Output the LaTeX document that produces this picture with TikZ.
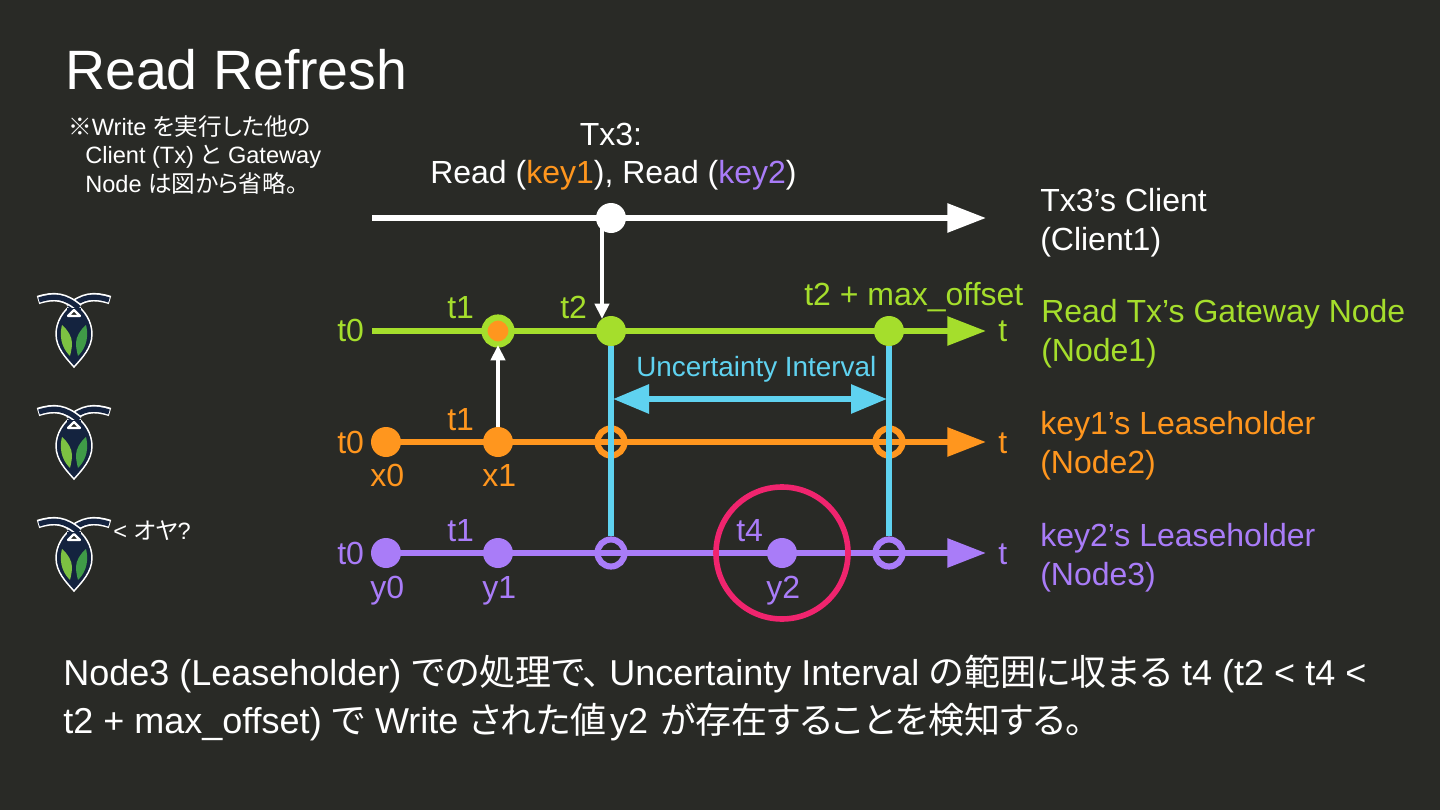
\documentclass[tikz,border=0pt]{standalone}
\usepackage{fontspec}
\setmainfont{Liberation Sans}
\newfontfamily\jpfont[RawFeature=+palt]{Noto Sans CJK JP}
\newcommand{\J}[1]{{\jpfont #1}}
\usetikzlibrary{arrows.meta}
\definecolor{bgc}{HTML}{292A26}
\definecolor{gr}{HTML}{A5DE2C}
\definecolor{og}{HTML}{FF961E}
\definecolor{pu}{HTML}{A97CF8}
\definecolor{cy}{HTML}{5FD2F0}
\definecolor{pk}{HTML}{F0246E}
\definecolor{navy}{HTML}{14233F}
\definecolor{leafa}{HTML}{7DC242}
\definecolor{leafb}{HTML}{3F9B47}
\tikzset{
  lab/.style={anchor=base west,inner sep=0pt,font=\fontsize{24}{28}\selectfont},
  big/.style={anchor=base west,inner sep=0pt,font=\fontsize{27}{32}\selectfont,text=white},
  small/.style={anchor=base west,inner sep=0pt,font=\fontsize{17.7}{22}\selectfont,text=white},
  dot/.style={circle,inner sep=0pt,minimum size=#1*0.75pt},
  ring/.style={circle,inner sep=0pt,minimum size=27*0.75pt,line width=4.6pt,draw=#1},
  tl/.style={line width=4.4pt,-{Triangle[length=29pt,width=21pt]},shorten >=0pt},
  thin arrow/.style={draw=white,line width=2.8pt,-{Triangle[length=11.5pt,width=10.5pt]}},
  cyl/.style={draw=cy,line width=4.5pt},
  pics/logo/.style={code={
    \fill[navy,draw=white,line width=1.1pt] (0,-27) .. controls (11,-20) and (18,-8) .. (18,4) .. controls (18,18) and (8,28) .. (0,37) .. controls (-8,28) and (-18,18) .. (-18,4) .. controls (-18,-8) and (-11,-20) .. (0,-27) -- cycle;
    \fill[leafa] (-12,-5) .. controls (-6,0) and (-2,7) .. (-2,13) .. controls (-2,18) and (-3,22) .. (-4,26) .. controls (-9,21) and (-16,11) .. (-12,-5) -- cycle;
    \fill[leafb] (12,-5) .. controls (6,0) and (2,7) .. (2,13) .. controls (2,18) and (3,22) .. (4,26) .. controls (9,21) and (16,11) .. (12,-5) -- cycle;
    \draw[white,line width=6.4pt] (36,-30) .. controls (20,-35) and (9,-34) .. (-5,-22);
    \draw[navy,line width=3.9pt] (35,-30) .. controls (20,-35) and (9,-34) .. (-5,-22);
    \draw[white,line width=6.4pt] (-36,-30) .. controls (-20,-35) and (-9,-34) .. (5,-22);
    \draw[navy,line width=3.9pt] (-35,-30) .. controls (-20,-35) and (-9,-34) .. (5,-22);
    \fill[navy] (-7,-22) rectangle (7,-17);
    \fill[bgc,draw=white,line width=1.6pt,line join=round] (0,-20) -- (-6,-14) -- (6,-14) -- cycle;
  }}
}
\begin{document}
\begin{tikzpicture}[x=0.75pt,y=-0.75pt]
\useasboundingbox (0,0) rectangle (1440,810);
\fill[bgc] (0,0) rectangle (1440,810);

% title and notes
\node[anchor=base west,inner sep=0pt,font=\fontsize{41.6}{48}\selectfont,text=white] (title) at (65,89) {Read Refresh};
\node[small] (n1) at (68,135) {\J{※}Write \J{を実行した他の}};
\node[small] (n2) at (85,163) {Client (Tx) \J{と} Gateway};
\node[small] (n3) at (85,192) {Node \J{は図から省略。}};
\node[small] (oya) at (113,539) {< \J{オヤ}?};

% logos
\pic at (74,330) {logo};
\pic at (74,442) {logo};
\pic at (74,554) {logo};

% line end points
\coordinate (ws) at (372,218); \coordinate (we) at (986,218);
\coordinate (gs) at (372,331); \coordinate (ge) at (986,331);
\coordinate (oe) at (986,442);
\coordinate (pe) at (986,553);

% axes
\draw[tl,white] (ws) -- (we);
\draw[tl,gr] (gs) -- (ge);

\node[dot=30,fill=og] (o0) at (386,442) {};
\node[dot=30,fill=og] (o1) at (498,442) {};
\node[ring=og] (o2) at (611,442) {};
\node[ring=og] (o3) at (889,442) {};
\draw[tl,og] (o0.center) -- (oe);

\node[dot=30,fill=pu] (p0) at (386,553) {};
\node[dot=30,fill=pu] (p1) at (498,553) {};
\node[ring=pu] (p2) at (611,553) {};
\node[ring=pu] (p3) at (889,553) {};
\node[dot=30,fill=pu] (p4) at (782,553) {};
\draw[tl,pu] (p0.center) -- (pe);

% green line nodes
\node[dot=27,fill=og,draw=gr,line width=4.6pt] (g1) at (498,331) {};
\node[dot=30,fill=gr] (g2) at (611,331) {};
\node[dot=30,fill=gr] (g3) at (889,331) {};

% white dot
\node[dot=30,fill=white] (w1) at (611,218) {};

% cyan
\draw[cyl] (g2.south) -- (p2.north);
\draw[cyl] (g3.south) -- (p3.north);
\coordinate (c1) at (613,399); \coordinate (c2) at (887,399);
\draw[draw=cy,line width=4.5pt,{Triangle[length=27pt,width=21pt]}-{Triangle[length=27pt,width=21pt]}] (c1) -- (c2);

% white arrows
\coordinate (wa) at (602,225); \coordinate (wb) at (602,319);
\draw[thin arrow] (wa) -- (wb);
\coordinate (ua) at (498,345);
\draw[thin arrow] (o1.north) -- (ua);

% pink
\node[circle,inner sep=0pt,minimum size=99pt,draw=pk,line width=4.2pt] (pink) at (782,553) {};

% labels
\node[lab,text=white,anchor=base] (tx3) at (611,145) {Tx3:};
\node[lab,text=white] (rd) at (430,183) {Read ({\color{og}key1}), Read ({\color{pu}key2})};
\node[lab,text=white] (c1a) at (1040,211) {Tx3’s Client};
\node[lab,text=white] (c1b) at (1040,250) {(Client1)};
\node[lab,text=gr] (g1a) at (1041,322) {Read Tx’s Gateway Node};
\node[lab,text=gr] (g1b) at (1041,361) {(Node1)};
\node[lab,text=og] (o1a) at (1040,434) {key1’s Leaseholder};
\node[lab,text=og] (o1b) at (1040,473) {(Node2)};
\node[lab,text=pu] (p1a) at (1040,546) {key2’s Leaseholder};
\node[lab,text=pu] (p1b) at (1040,585) {(Node3)};

\node[lab,text=gr] (gt0) at (337,341) {t0};
\node[lab,text=gr] (gt) at (998,341) {t};
\node[lab,text=gr] (gt1) at (447,318) {t1};
\node[lab,text=gr] (gt2) at (560,318) {t2};
\node[lab,text=gr] (gmo) at (804,305) {t2 + max\_offset};

\node[lab,text=og] (ot0) at (337,453) {t0};
\node[lab,text=og] (ot) at (998,453) {t};
\node[lab,text=og] (ot1) at (447,430) {t1};
\node[lab,text=og] (ox0) at (370,486) {x0};
\node[lab,text=og] (ox1) at (482,486) {x1};

\node[lab,text=pu] (pt0) at (337,564) {t0};
\node[lab,text=pu] (pt) at (998,564) {t};
\node[lab,text=pu] (pt1) at (447,541) {t1};
\node[lab,text=pu] (pt4) at (736,541) {t4};
\node[lab,text=pu] (py0) at (370,598) {y0};
\node[lab,text=pu] (py1) at (482,598) {y1};
\node[lab,text=pu] (py2) at (766,598) {y2};

\node[anchor=base west,inner sep=0pt,font=\fontsize{20.9}{26}\selectfont,text=cy] (ui) at (636,376) {Uncertainty Interval};

% bottom text
\node[big] (b1) at (63,685) {Node3 (Leaseholder) \J{での処理で、}\hspace{6pt}Uncertainty Interval \J{の範囲に収まる} t4 (t2 < t4 <};
\node[big] (b2) at (63,733) {t2 + max\_offset) \J{で} Write \J{された値}\hspace{-5pt} y2\hspace{1.5pt} \J{が存在することを検知する。}};
\end{tikzpicture}
\end{document}
